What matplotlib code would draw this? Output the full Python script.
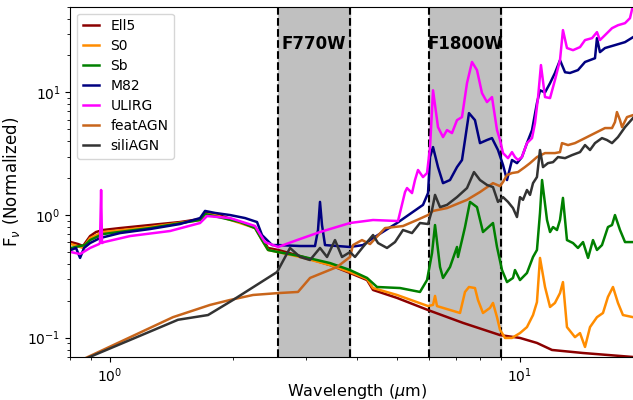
import numpy as np
import matplotlib
matplotlib.use('Agg')
import matplotlib.pyplot as plt

# (wavelength in micron, normalized F_nu) for each template
ell5 = [(0.803, 0.602), (0.836, 0.580), (0.859, 0.559), (0.894, 0.674), (0.924, 0.727),
        (0.961, 0.755), (1.058, 0.783), (1.252, 0.829), (1.482, 0.877), (1.658, 0.928),
        (1.705, 1.04), (1.804, 1.02), (1.908, 0.963), (2.075, 0.877), (2.258, 0.798),
        (2.348, 0.649), (2.429, 0.539), (2.570, 0.519), (2.907, 0.463), (3.440, 0.391),
        (3.849, 0.337), (4.236, 0.295), (4.381, 0.245), (5.012, 0.211), (5.966, 0.168),
        (7.261, 0.132), (8.939, 0.105), (10.0, 0.0995), (11.0, 0.0906), (11.97, 0.0794),
        (14.25, 0.0750), (18.87, 0.0696)]

s0 = [(0.803, 0.580), (0.859, 0.539), (0.894, 0.649), (0.961, 0.727), (1.252, 0.798),
      (1.658, 0.911), (1.705, 1.02), (1.804, 1.00), (2.075, 0.861), (2.258, 0.783),
      (2.348, 0.625), (2.429, 0.519), (2.570, 0.499), (2.907, 0.455), (3.440, 0.391),
      (3.849, 0.343), (4.236, 0.301), (4.381, 0.254), (5.012, 0.223), (5.966, 0.181),
      (6.136, 0.185), (6.205, 0.219), (6.275, 0.181), (7.140, 0.159), (7.343, 0.236),
      (7.509, 0.259), (7.766, 0.254), (7.898, 0.203), (8.124, 0.159), (8.449, 0.175),
      (8.593, 0.192), (8.789, 0.147), (8.939, 0.116), (9.194, 0.0995), (9.561, 0.0995),
      (10.0, 0.109), (10.40, 0.122), (10.76, 0.153), (11.0, 0.195), (11.19, 0.447),
      (11.51, 0.259), (11.84, 0.178), (12.17, 0.192), (12.52, 0.231), (12.73, 0.284),
      (13.02, 0.122), (13.62, 0.101), (14.01, 0.109), (14.41, 0.084), (14.82, 0.122),
      (15.41, 0.147), (15.94, 0.159), (16.39, 0.215), (16.86, 0.259), (17.34, 0.192),
      (17.83, 0.153), (18.87, 0.147)]

sb = [(0.803, 0.539), (0.845, 0.559), (0.869, 0.569), (0.894, 0.625), (0.961, 0.700),
      (1.252, 0.783), (1.658, 0.911), (1.705, 1.02), (2.075, 0.877), (2.258, 0.783),
      (2.348, 0.625), (2.429, 0.519), (2.570, 0.499), (2.907, 0.463), (3.440, 0.406),
      (3.849, 0.356), (4.236, 0.307), (4.480, 0.259), (5.098, 0.254), (5.703, 0.236),
      (5.933, 0.295), (6.102, 0.490), (6.205, 0.829), (6.382, 0.377), (6.490, 0.307),
      (6.750, 0.377), (7.020, 0.549), (7.060, 0.455), (7.220, 0.625), (7.343, 0.798),
      (7.551, 1.28), (7.854, 1.16), (8.124, 0.727), (8.593, 0.861), (8.789, 0.549),
      (9.040, 0.356), (9.297, 0.284), (9.615, 0.307), (9.723, 0.356), (10.0, 0.295),
      (10.40, 0.337), (10.76, 0.455), (11.0, 0.519), (11.19, 1.04), (11.32, 1.93),
      (11.64, 0.911), (11.84, 0.727), (12.04, 0.798), (12.31, 0.755), (12.52, 0.911),
      (12.73, 1.38), (13.02, 0.625), (13.47, 0.591), (13.85, 0.539), (14.25, 0.602),
      (14.66, 0.447), (15.07, 0.625), (15.41, 0.519), (15.85, 0.569), (16.39, 0.798),
      (16.77, 0.829), (17.05, 1.00), (17.54, 0.755), (18.04, 0.602), (18.87, 0.602)]

m82 = [(0.803, 0.519), (0.826, 0.539), (0.845, 0.447), (0.864, 0.539), (0.894, 0.591),
       (0.945, 0.649), (1.058, 0.713), (1.252, 0.769), (1.482, 0.845), (1.658, 0.945),
       (1.705, 1.08), (1.804, 1.04), (1.962, 1.00), (2.134, 0.945), (2.283, 0.877),
       (2.348, 0.687), (2.484, 0.569), (2.570, 0.569), (2.907, 0.559), (3.162, 0.559),
       (3.216, 0.755), (3.252, 1.28), (3.289, 0.829), (3.345, 0.569), (3.849, 0.549),
       (4.140, 0.569), (4.381, 0.649), (5.012, 0.861), (5.800, 1.21), (5.966, 1.51),
       (6.034, 2.97), (6.136, 3.58), (6.310, 2.46), (6.490, 1.82), (6.750, 1.93),
       (7.020, 2.46), (7.220, 2.81), (7.343, 4.09), (7.509, 6.78), (7.766, 5.94),
       (7.988, 3.86), (8.308, 4.09), (8.545, 4.24), (8.838, 3.39), (9.091, 2.56),
       (9.297, 1.93), (9.561, 2.81), (9.833, 2.65), (10.11, 2.97), (10.40, 3.86),
       (10.70, 4.93), (11.0, 8.18), (11.19, 10.4), (11.51, 10.0), (11.84, 11.9),
       (12.17, 14.4), (12.52, 18.3), (12.88, 14.6), (13.24, 14.4), (13.85, 15.2),
       (14.41, 17.7), (15.24, 19.0), (15.41, 27.7), (15.67, 21.3), (16.12, 23.0),
       (17.05, 24.3), (18.04, 25.7), (18.87, 28.2)]

ulirg = [(0.803, 0.499), (0.845, 0.481), (0.894, 0.539), (0.940, 0.580), (0.945, 0.591),
         (0.951, 1.60), (0.956, 0.591), (0.967, 0.602), (1.119, 0.674), (1.401, 0.741),
         (1.658, 0.861), (1.724, 0.981), (1.962, 0.945), (2.258, 0.814), (2.388, 0.602),
         (2.570, 0.549), (2.858, 0.625), (3.252, 0.727), (3.849, 0.861), (4.381, 0.911),
         (5.040, 0.894), (5.243, 1.54), (5.302, 1.66), (5.453, 1.51), (5.545, 1.93),
         (5.640, 2.33), (5.800, 2.04), (5.933, 2.20), (6.034, 3.58), (6.136, 10.4),
         (6.310, 5.21), (6.490, 4.32), (6.637, 4.93), (6.826, 4.66), (7.020, 5.94),
         (7.220, 6.29), (7.426, 11.9), (7.637, 17.7), (7.854, 15.2), (8.078, 9.87),
         (8.308, 8.34), (8.545, 9.16), (8.789, 4.93), (8.939, 4.09), (9.091, 3.20),
         (9.349, 2.91), (9.561, 3.26), (9.723, 2.97), (9.888, 2.81), (10.11, 2.97),
         (10.40, 3.86), (10.70, 4.24), (10.88, 5.62), (11.07, 9.16), (11.25, 16.7),
         (11.51, 9.16), (11.84, 8.99), (12.17, 12.6), (12.52, 18.3), (12.73, 32.2),
         (13.02, 23.0), (13.47, 22.1), (14.01, 23.4), (14.41, 26.7), (14.99, 27.7),
         (15.41, 31.0), (15.67, 26.7), (16.12, 29.3), (16.77, 33.4), (17.34, 35.3),
         (18.04, 36.7), (18.55, 40.3), (18.87, 51.5)]

feat_agn = [(0.803, 0.060), (1.424, 0.147), (1.754, 0.185), (1.962, 0.203), (2.233, 0.223),
            (2.570, 0.231), (2.874, 0.236), (3.075, 0.307), (3.578, 0.377), (3.849, 0.455),
            (3.914, 0.569), (4.117, 0.625), (4.308, 0.580), (4.686, 0.783), (5.184, 0.814),
            (5.608, 0.911), (5.966, 1.00), (6.136, 1.08), (6.637, 1.14), (7.426, 1.33),
            (7.988, 1.54), (8.593, 1.82), (8.939, 1.72), (9.091, 1.86), (9.297, 2.12),
            (9.561, 2.20), (9.888, 2.24), (10.28, 2.46), (10.58, 2.65), (11.0, 2.97),
            (11.51, 3.20), (12.17, 3.20), (12.52, 3.26), (12.66, 3.86), (13.10, 3.72),
            (13.62, 3.86), (14.41, 4.24), (15.24, 4.66), (16.12, 5.12), (16.77, 5.12),
            (17.05, 5.73), (17.24, 6.91), (17.54, 5.94), (17.74, 5.21), (18.24, 6.29),
            (18.87, 6.53)]

sili_agn = [(0.803, 0.060), (1.465, 0.140), (1.734, 0.153), (1.995, 0.203), (2.555, 0.343),
            (2.748, 0.539), (2.907, 0.455), (3.075, 0.430), (3.252, 0.539), (3.383, 0.455),
            (3.538, 0.625), (3.680, 0.455), (3.849, 0.499), (3.958, 0.455), (4.140, 0.549),
            (4.381, 0.687), (4.506, 0.591), (4.738, 0.539), (4.956, 0.602), (5.184, 0.755),
            (5.453, 0.713), (5.703, 0.861), (5.966, 0.845), (6.102, 1.10), (6.205, 1.46),
            (6.382, 1.16), (6.637, 1.21), (7.020, 1.40), (7.426, 1.66), (7.723, 2.24),
            (7.988, 1.93), (8.308, 1.76), (8.593, 1.69), (8.838, 1.28), (9.091, 1.40),
            (9.349, 1.28), (9.615, 1.14), (9.833, 0.963), (10.0, 1.40), (10.17, 1.33),
            (10.40, 1.60), (10.58, 1.46), (10.76, 1.82), (11.0, 2.04), (11.19, 3.39),
            (11.38, 2.46), (11.70, 2.65), (12.04, 2.70), (12.38, 2.97), (12.88, 2.91),
            (13.39, 3.08), (14.01, 3.26), (14.41, 3.72), (14.82, 3.39), (15.24, 3.86),
            (15.85, 4.24), (16.30, 4.09), (16.77, 3.86), (17.34, 4.32), (18.04, 5.21),
            (18.87, 6.18)]

names = ['Ell5', 'S0', 'Sb', 'M82', 'ULIRG', 'featAGN', 'siliAGN']
colors = ['darkred', 'darkorange', 'green', 'navy', 'magenta', '#c8651b', '#333333']
templates = [ell5, s0, sb, m82, ulirg, feat_agn, sili_agn]

# MIRI filters shifted to the rest frame
filters = ['F770W', 'F1800W']
band_lo = [2.567, 6.0]
band_hi = [3.85, 9.0]

fig = plt.figure(figsize=(6.33, 4.0), dpi=100)
ax = fig.add_axes([0.1111, 0.1083, 0.9053, 0.875])

for lo, hi, lab in zip(band_lo, band_hi, filters):
    ax.axvspan(lo, hi, color='silver', zorder=0)
    ax.axvline(lo, c='k', ls='--', lw=1.5, zorder=1)
    ax.axvline(hi, c='k', ls='--', lw=1.5, zorder=1)
    ax.text(np.sqrt(lo*hi), 25, lab, ha='center', va='center',
            fontsize=12, fontweight='bold')

for t, n, c in zip(templates, names, colors):
    wl, f = np.array(t).T
    ax.plot(wl, f, c=c, lw=1.8, label=n, zorder=2)

ax.set_xscale('log')
ax.set_yscale('log')
ax.set_xlim(0.8, 20)
ax.set_ylim(0.07, 50)
ax.set_xlabel(r'Wavelength ($\mu$m)', fontsize=11.5, labelpad=-2)
ax.set_ylabel(r'F$_\nu$ (Normalized)', fontsize=12)
ax.tick_params(labelsize=10)
ax.legend(loc='upper left', fontsize=10, handlelength=1.2, labelspacing=0.43)

fig.savefig('out.png', dpi=100)
